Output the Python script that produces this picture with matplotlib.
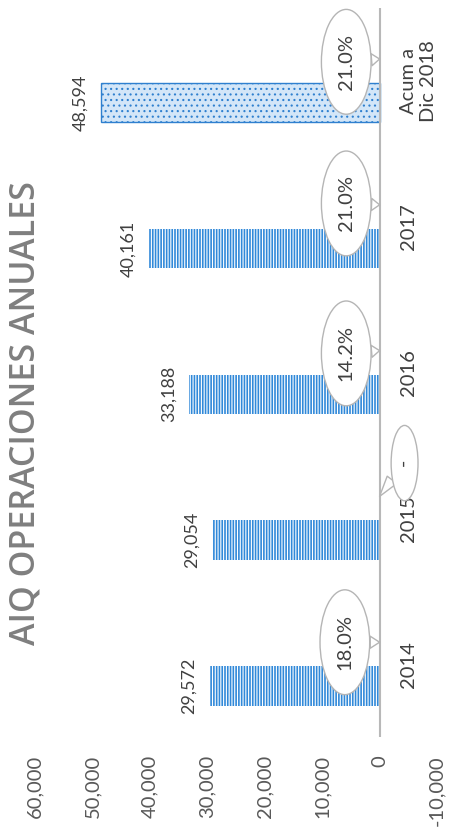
import matplotlib
matplotlib.use("Agg")
from matplotlib import pyplot as plt
import numpy as np

plt.rcParams['font.family'] = ['Lato', 'DejaVu Sans']
plt.rcParams['hatch.linewidth'] = 0.8

categories = ['2014', '2015', '2016', '2017', 'Acum a\nDic 2018']
operaciones = [29572, 29054, 33188, 40161, 48594]
crecimiento = ['18.0%', '-', '14.2%', '21.0%', '21.0%']
ticks = [-10000, 0, 10000, 20000, 30000, 40000, 50000, 60000]

# callout offsets (points) relative to the tip on the zero line
callout_offsets = [(-25, 0), (18, 24), (-24, -2), (-24, 1), (-24, -2)]

fig = plt.figure(figsize=(4.52, 8.35), dpi=100)
ax = fig.add_axes([35 / 452, 98 / 835, 402 / 452, 729 / 835])

pos = np.arange(len(categories))
bar_pos = pos - 0.15

# yearly bars: blue with thin white stripes
ax.barh(bar_pos[:4], operaciones[:4], height=0.27, color='#3189d9',
        edgecolor='white', linewidth=0, hatch='||||||')
# accumulated bar: light dotted
ax.barh(bar_pos[4], operaciones[4], height=0.27, color='#d3e6f8',
        edgecolor='#2f80cf', linewidth=1.0, hatch='...')

ax.axvline(0, color='#b8b8b8', lw=1.5, zorder=1)

ax.set_xlim(60000, -10000)
ax.set_ylim(-0.5, 4.5)
for s in ax.spines.values():
    s.set_visible(False)

ax.set_xticks(ticks)
ax.set_xticklabels([f'{t:,}' for t in ticks], rotation=90, fontsize=14.5,
                   color='#595959')
ax.tick_params(axis='x', length=0, pad=13)
ax.set_yticks([])

for p, bp, v in zip(pos, bar_pos, operaciones):
    ax.annotate(f'{v:,}', xy=(v, bp), xytext=(-9, 0), textcoords='offset points',
                rotation=90, ha='right', va='center', fontsize=13, color='#404040')

for p, c in zip(pos, categories):
    ax.annotate(c, xy=(0, p), xytext=(15, 0), textcoords='offset points',
                rotation=90, ha='left', va='center', fontsize=14.5,
                color='#404040', multialignment='center')

for p, txt, off in zip(pos, crecimiento, callout_offsets):
    label = txt if txt != '-' else '\u2003\u2004-\u2004\u2003'
    pad = 0.45 if txt != '-' else 0.05
    ax.annotate(label, xy=(0, p + 0.15), xytext=off, textcoords='offset points',
                rotation=90, ha='center', va='center', fontsize=14.5, color='#404040',
                bbox=dict(boxstyle=f'ellipse,pad={pad}', fc='white', ec='#b5b5b5', lw=1),
                arrowprops=dict(arrowstyle='wedge,tail_width=0.6', fc='white',
                                ec='#b5b5b5', lw=1, shrinkA=0, shrinkB=0),
                zorder=5)

fig.text(26 / 452, 1 - 413 / 835, 'AIQ OPERACIONES ANUALES', rotation=90,
         ha='center', va='center', fontsize=24.5, fontweight='semibold',
         family=['Open Sans', 'DejaVu Sans'], color='#7f7f7f')

fig.savefig('out.png', dpi=100)
